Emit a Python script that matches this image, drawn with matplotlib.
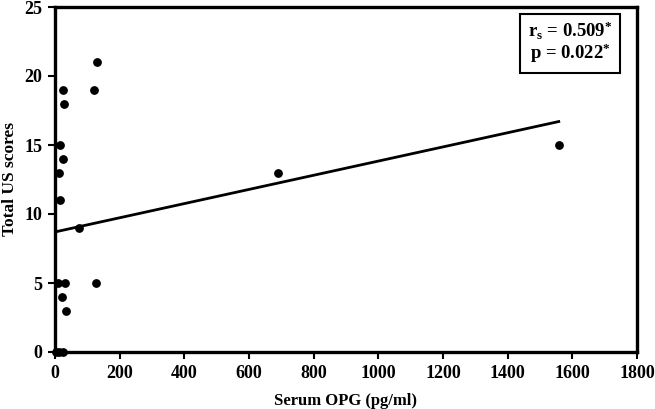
import matplotlib
matplotlib.use("Agg")
import matplotlib.pyplot as plt

# Serum OPG (pg/ml) vs total US scores
opg = [130, 122, 26, 29, 15, 24, 11, 16, 74, 10, 32, 126, 22, 35, 3, 12, 25, 691, 1558]
us_score = [21, 19, 19, 18, 15, 14, 13, 11, 9, 5, 5, 5, 4, 3, 0, 0, 0, 13, 15]

# linear trend line end points
fit_x = [0, 1558]
fit_y = [8.7, 16.7]

x_ticks = [0, 200, 400, 600, 800, 1000, 1200, 1400, 1600, 1800]
y_ticks = [0, 5, 10, 15, 20, 25]

plt.rcParams["font.family"] = ["Liberation Serif", "DejaVu Serif"]
plt.rcParams["font.weight"] = "bold"
plt.rcParams["mathtext.fontset"] = "custom"
plt.rcParams["mathtext.rm"] = "Liberation Serif:bold"
plt.rcParams["mathtext.it"] = "Liberation Serif:bold"
plt.rcParams["mathtext.bf"] = "Liberation Serif:bold"

fig = plt.figure(figsize=(6.55, 4.09), dpi=100)
ax = fig.add_axes([55 / 655, 57 / 409, 582 / 655, 345 / 409])

ax.plot(fit_x, fit_y, color="black", linewidth=2.0, zorder=2)
ax.scatter(opg, us_score, s=28, color="black", zorder=3, clip_on=False)

ax.set_xlim(0, 1800)
ax.set_ylim(0, 25)
ax.set_xticks(x_ticks)
ax.set_yticks(y_ticks)
for s in ax.spines.values():
    s.set_linewidth(2.4)
ax.tick_params(direction="out", length=5, width=1.5, labelsize=13, pad=4)
for lab in ax.get_xticklabels() + ax.get_yticklabels():
    lab.set_fontweight("bold")

ax.set_xlabel("Serum OPG (pg/ml)", fontsize=12, fontweight="bold", labelpad=8)
ax.set_ylabel("Total US scores", fontsize=12.5, fontweight="bold", labelpad=5)

ax.text(0.885, 0.897, "r$_\\mathregular{s}$ = 0.509$^\\mathregular{*}$\np = 0.022$^\\mathregular{*}$",
        transform=ax.transAxes, ha="center", va="center", fontsize=13.5, fontweight="bold",
        linespacing=1.0,
        bbox=dict(boxstyle="square,pad=0.4", facecolor="white", edgecolor="black", linewidth=1.5))

plt.savefig("out.png", dpi=100)
